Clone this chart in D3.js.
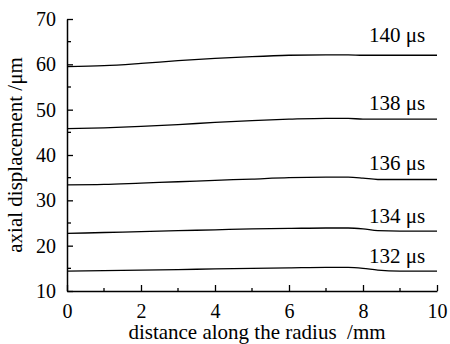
<!DOCTYPE html>
<html>
<head>
<meta charset="utf-8">
<script src="https://cdn.jsdelivr.net/npm/d3@7"></script>
<style>
  html, body { margin: 0; padding: 0; background: #fff; }
  svg { display: block; }
  svg text { font-family: "Liberation Serif", "Times New Roman", serif; }
</style>
</head>
<body>
<svg id="chart" width="450" height="344"></svg>
<script>
// Radial positions (mm) at which the axial displacement was sampled
const radius = [0, 1, 2, 3, 4, 5, 6, 7, 7.6, 8, 8.4, 9, 10];

// Axial displacement (µm) along the radius, one series per time instant
const series = [
  { label: "140 μs", values: [59.5, 59.7, 60.2, 60.8, 61.3, 61.7, 62.0, 62.1, 62.1, 62.0, 62.0, 62.0, 62.0] },
  { label: "138 μs", values: [45.8, 46.0, 46.3, 46.7, 47.2, 47.6, 47.9, 48.1, 48.1, 47.9, 47.9, 47.9, 47.9] },
  { label: "136 μs", values: [33.4, 33.5, 33.8, 34.1, 34.4, 34.7, 35.0, 35.1, 35.1, 34.9, 34.6, 34.6, 34.6] },
  { label: "134 μs", values: [22.7, 22.9, 23.1, 23.3, 23.5, 23.7, 23.8, 23.9, 23.9, 23.7, 23.3, 23.2, 23.2] },
  { label: "132 μs", values: [14.4, 14.5, 14.6, 14.7, 14.9, 15.0, 15.1, 15.2, 15.2, 15.0, 14.6, 14.4, 14.4] }
];

const xTicks = [0, 2, 4, 6, 8, 10];
const yTicks = [10, 20, 30, 40, 50, 60, 70];
const xTitle = "distance along the radius  /mm";
const yTitle = "axial displacement /μm";

const serif = "Liberation Serif, Times New Roman, serif";
const svg = d3.select("#chart");
const margin = { left: 67, right: 13, top: 19, bottom: 53 };
const W = 450, H = 344;

const x = d3.scaleLinear().domain([0, 10]).range([margin.left, W - margin.right]);
const y = d3.scaleLinear().domain([10, 70]).range([H - margin.bottom, margin.top]);

const tickFont = 20;
const textFont = 21;
// vertical gap (px) between each curve's right end and its label baseline
const labelGap = [13.5, 9, 9, 7.7, 8];

// Curves
const line = d3.line()
  .x((d, i) => x(radius[i]))
  .y(d => y(d))
  .curve(d3.curveMonotoneX);

svg.append("g").selectAll("path")
  .data(series)
  .join("path")
  .attr("d", d => line(d.values))
  .attr("fill", "none")
  .attr("stroke", "#000")
  .attr("stroke-width", 1.3);

// Series labels, placed above the right end of each curve
svg.append("g").selectAll("text")
  .data(series)
  .join("text")
  .attr("x", 369)
  .attr("y", (d, i) => y(d.values[d.values.length - 1]) - labelGap[i])
  .attr("font-family", serif)
  .attr("font-size", textFont)
  .text(d => d.label);

// X axis: inward ticks, minor ticks at odd values
const xAxis = d3.axisBottom(x).tickValues(xTicks).tickSizeInner(-6).tickSizeOuter(0).tickPadding(8)
  .tickFormat(d3.format("d"));
const gx = svg.append("g").attr("transform", `translate(0,${y(10)})`).call(xAxis)
  .attr("font-family", serif).attr("font-size", tickFont);
gx.selectAll(".tick text").attr("fill", "#000").attr("dy", "0.95em").attr("font-family", serif);
gx.select(".domain").attr("stroke-width", 1.5).attr("stroke", "#000");
gx.selectAll(".tick line").attr("stroke-width", 1.3).attr("stroke", "#000");
gx.selectAll(".minor").data(d3.range(1, 10, 2)).join("line")
  .attr("x1", d => x(d)).attr("x2", d => x(d))
  .attr("y1", 0).attr("y2", -3)
  .attr("stroke", "#000").attr("stroke-width", 1.3);

// Y axis: inward ticks, minor ticks at every 5
const yAxis = d3.axisLeft(y).tickValues(yTicks).tickSizeInner(-6).tickSizeOuter(0).tickPadding(11)
  .tickFormat(d3.format("d"));
const gy = svg.append("g").attr("transform", `translate(${x(0)},0)`).call(yAxis)
  .attr("font-family", serif).attr("font-size", tickFont);
gy.selectAll(".tick text").attr("fill", "#000").attr("font-family", serif);
gy.select(".domain").attr("stroke-width", 1.5).attr("stroke", "#000");
gy.selectAll(".tick line").attr("stroke-width", 1.3).attr("stroke", "#000");
gy.selectAll(".minor").data(d3.range(15, 70, 10)).join("line")
  .attr("x1", 0).attr("x2", 4)
  .attr("y1", d => y(d)).attr("y2", d => y(d))
  .attr("stroke", "#000").attr("stroke-width", 1.3);

// Axis titles
svg.append("text")
  .attr("x", (x(0) + x(10)) / 2 + 5)
  .attr("y", 339)
  .attr("text-anchor", "middle")
  .attr("font-family", serif)
  .attr("font-size", textFont)
  .style("white-space", "pre")
  .text(xTitle);

svg.append("text")
  .attr("transform", `translate(22,${(y(10) + y(70)) / 2}) rotate(-90)`)
  .attr("text-anchor", "middle")
  .attr("font-family", serif)
  .attr("font-size", textFont)
  .text(yTitle);
</script>
</body>
</html>
